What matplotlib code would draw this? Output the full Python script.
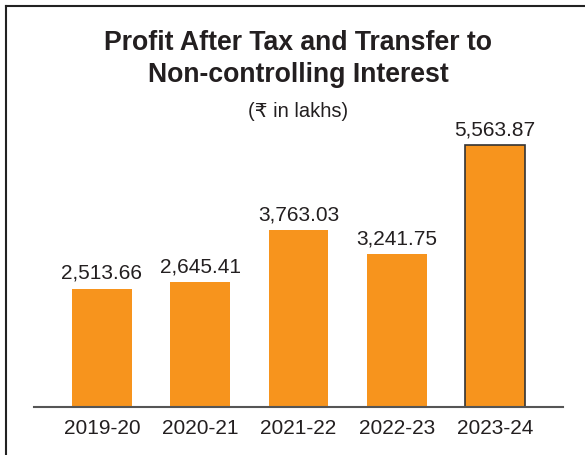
import matplotlib
matplotlib.use("Agg")
import matplotlib.pyplot as plt
from matplotlib.lines import Line2D

years = ["2019-20", "2020-21", "2021-22", "2022-23", "2023-24"]
profit = [2513.66, 2645.41, 3763.03, 3241.75, 5563.87]

BAR = "#F7941D"
TEXT = "#231F20"
FONT = ["Liberation Sans", "DejaVu Sans"]

plt.rcParams["font.family"] = FONT

fig = plt.figure(figsize=(5.85, 4.55), dpi=100)
W, H = 585, 455
# axes: baseline at y=407 px, left 34 px, right 563 px
ax = fig.add_axes([34 / W, (H - 407) / H, (563 - 34) / W, (407 - 100) / H])

x = list(range(len(years)))
bars = ax.bar(x, profit, width=0.61, color=BAR, zorder=2)
# last year highlighted with a dark outline
bars[-1].set_edgecolor("#333333")
bars[-1].set_linewidth(1.2)

for xi, v in zip(x, profit):
    ax.text(xi, v + 120, f"{v:,.2f}", ha="center", va="bottom",
            fontsize=15, color=TEXT)

ax.set_xlim(-0.69, 4.69)
ax.set_ylim(0, 307 / 0.04709)
ax.set_xticks(x)
ax.set_xticklabels(years, fontsize=15, color=TEXT)
ax.tick_params(axis="x", length=0, pad=9)
ax.set_yticks([])
for side in ("top", "right", "left"):
    ax.spines[side].set_visible(False)
ax.spines["bottom"].set_color("#555555")
ax.spines["bottom"].set_linewidth(1.5)

cx = 298 / W
fig.text(cx, 1 - 50 / H, "Profit After Tax and Transfer to",
         ha="center", va="baseline", fontsize=19.2, fontweight="bold", color=TEXT)
fig.text(cx, 1 - 82 / H, "Non-controlling Interest",
         ha="center", va="baseline", fontsize=19.2, fontweight="bold", color=TEXT)
fig.text(cx, 1 - 117 / H, "(\u20b9 in lakhs)",
         ha="center", va="baseline", fontsize=14.5, color=TEXT)

# frame: top and left rule
fig.add_artist(Line2D([6 / W, 6 / W], [0, 1 - 6 / H], color="#222222",
                      linewidth=1.5, transform=fig.transFigure))
fig.add_artist(Line2D([6 / W, 1], [1 - 6 / H, 1 - 6 / H], color="#222222",
                      linewidth=1.5, transform=fig.transFigure))

fig.savefig("out.png", dpi=100)
